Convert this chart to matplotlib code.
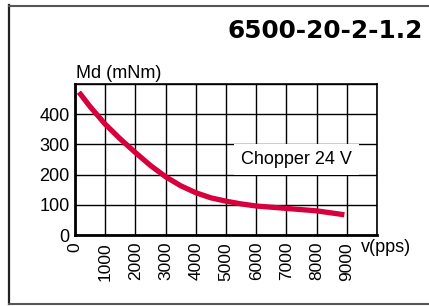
import matplotlib
matplotlib.use('Agg')
import matplotlib.pyplot as plt
from matplotlib.lines import Line2D

plt.rcParams['font.family'] = ['Liberation Sans', 'DejaVu Sans']

# dati
velocita = [130, 500, 1000, 1500, 2000, 2500, 3000, 3500, 4000, 4500,
            5000, 5500, 6000, 7000, 8000, 8920]
coppia = [473, 425, 367, 318, 273, 230, 193, 163, 140, 123,
          112, 103, 96, 88, 80, 67]

x_ticks = [0, 1000, 2000, 3000, 4000, 5000, 6000, 7000, 8000, 9000, 10000]
x_labels = ['0', '1000', '2000', '3000', '4000', '5000', '6000', '7000', '8000', '9000', '']
y_ticks = [0, 100, 200, 300, 400, 500]
y_labels = ['0', '100', '200', '300', '400', '']

titolo = '6500-20-2-1.2'

W, H = 429, 306
fig = plt.figure(figsize=(W / 100, H / 100), dpi=100)
ax = fig.add_axes([75 / W, 1 - 235 / H, (377 - 75) / W, (235 - 84) / H])

ax.set_xlim(0, 10000)
ax.set_ylim(0, 500)
ax.set_xticks(x_ticks)
ax.set_xticklabels(x_labels, rotation=90, fontsize=12.5)
ax.set_yticks(y_ticks)
ax.set_yticklabels(y_labels, fontsize=13)
ax.tick_params(length=0)
ax.tick_params(axis='x', pad=5)
ax.tick_params(axis='y', pad=4)
ax.grid(True, color='black', linewidth=1.0)
ax.set_axisbelow(True)

for lato in ['left', 'bottom']:
    ax.spines[lato].set_linewidth(2.0)
for lato in ['top', 'right']:
    ax.spines[lato].set_linewidth(1.2)

ax.plot(velocita, coppia, color='#d7003c', linewidth=3.8, solid_capstyle='butt',
        solid_joinstyle='round', zorder=3)

ax.text(7330, 250, 'Chopper 24 V', fontsize=13, ha='center', va='center',
        bbox=dict(facecolor='white', edgecolor='none', pad=5), zorder=4)

fig.text(76 / W, 1 - 78 / H, 'Md (mNm)', fontsize=13, ha='left', va='baseline')
fig.text(361 / W, 1 - 248 / H, 'v(pps)', fontsize=13, ha='left', va='center')
fig.text(423 / W, 1 - 38 / H, titolo, fontsize=17.8, fontweight='bold',
         family='DejaVu Sans', ha='right', va='baseline')

# cornice esterna
fig.add_artist(Line2D([8.5 / W, 8.5 / W], [1 - 5 / H, 1 - 304 / H], color='#222222', lw=1.6, transform=fig.transFigure))
fig.add_artist(Line2D([8.5 / W, 1], [1 - 5.5 / H, 1 - 5.5 / H], color='#555555', lw=1.5, transform=fig.transFigure))
fig.add_artist(Line2D([8.5 / W, 1], [1 - 303.5 / H, 1 - 303.5 / H], color='#555555', lw=1.5, transform=fig.transFigure))

fig.savefig('out.png', dpi=100)
